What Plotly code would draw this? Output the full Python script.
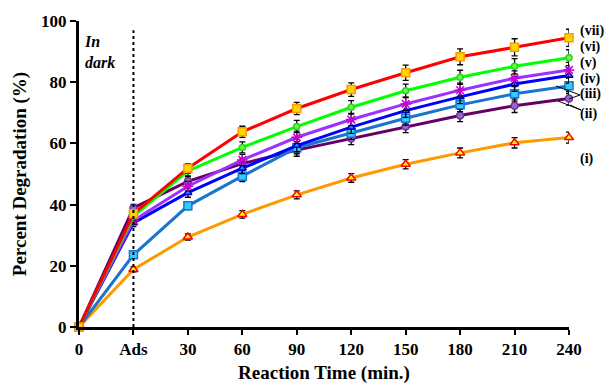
import plotly.graph_objects as go

# Sampling points (min.); "Ads" = end of the dark adsorption step
time_labels = ["0", "Ads", "30", "60", "90", "120", "150", "180", "210", "240"]

# Percent degradation for each photocatalyst
deg_i = [0, 18.8, 29.4, 36.8, 43.2, 48.7, 53.2, 56.9, 60.2, 61.9]
deg_ii = [0, 38.9, 47.6, 53.4, 57.8, 61.6, 65.5, 69.1, 72.3, 74.7]
deg_iii = [0, 23.6, 39.6, 49.3, 58.6, 63.3, 68.2, 72.6, 76.2, 78.8]
deg_iv = [0, 34.0, 43.9, 51.9, 59.3, 65.3, 70.7, 75.2, 79.4, 82.2]
deg_v = [0, 34.8, 46.0, 54.6, 62.0, 67.8, 72.9, 77.4, 81.3, 84.0]
deg_vi = [0, 36.2, 51.0, 58.7, 65.5, 71.8, 77.2, 81.6, 85.2, 88.0]
deg_vii = [0, 37.0, 51.9, 63.8, 71.4, 77.6, 83.1, 88.3, 91.4, 94.5]

# Standard deviations
err_i = [0, 0.8, 1.0, 1.2, 1.3, 1.4, 1.5, 1.6, 1.7, 1.8]
err_ii = [0, 1.2, 1.5, 1.8, 2.0, 2.0, 2.0, 2.0, 2.2, 2.2]
err_iii = [0, 1.0, 1.2, 1.8, 2.0, 2.0, 2.2, 2.2, 2.4, 2.5]
err_iv = [0, 1.2, 1.5, 1.8, 2.0, 2.0, 2.2, 2.2, 2.4, 2.5]
err_v = [0, 1.2, 1.6, 1.8, 2.0, 2.0, 2.2, 2.3, 2.4, 2.5]
err_vi = [0, 1.2, 1.6, 1.8, 2.0, 2.2, 2.2, 2.3, 2.5, 2.6]
err_vii = [0, 1.2, 1.5, 1.8, 2.0, 2.2, 2.5, 2.6, 2.8, 2.8]

series_labels = ["(i)", "(ii)", "(iii)", "(iv)", "(v)", "(vi)", "(vii)"]

FONT = "Liberation Serif"

styles = [
    dict(line="#FF9900", symbol="triangle-up", fill="#FFFF00", edge="#FF0000", size=8),
    dict(line="#660066", symbol="circle", fill="#9966CC", edge="#663399", size=7),
    dict(line="#1874CD", symbol="square", fill="#33CCFF", edge="#1874CD", size=8),
    dict(line="#0000FF", symbol="triangle-up", fill="#1E90FF", edge="#0000CC", size=7),
    dict(line="#9B30FF", symbol="asterisk-open", fill="#CC00CC", edge="#CC00CC", size=9),
    dict(line="#00FF00", symbol="circle", fill="#66FF33", edge="#33CC33", size=6),
    dict(line="#FF0000", symbol="square", fill="#FFD700", edge="#FF9900", size=8),
]

values = [deg_i, deg_ii, deg_iii, deg_iv, deg_v, deg_vi, deg_vii]
errors = [err_i, err_ii, err_iii, err_iv, err_v, err_vi, err_vii]

fig = go.Figure()

for name, ys, es, st in zip(series_labels, values, errors, styles):
    fig.add_trace(go.Scatter(
        x=time_labels, y=ys, name=name, mode="lines+markers",
        line=dict(color=st["line"], width=3),
        marker=dict(symbol=st["symbol"], size=st["size"], color=st["fill"],
                    line=dict(color=st["edge"], width=1.5)),
        error_y=dict(type="data", array=es, visible=True,
                     color="black", thickness=1.3, width=3),
        cliponaxis=False, showlegend=False,
    ))

# Dotted separator for the dark adsorption step
fig.add_shape(type="line", xref="x", yref="y", x0="Ads", x1="Ads", y0=0, y1=97,
              line=dict(color="black", width=2, dash="dot"))

fig.add_annotation(x=0.05, y=90, xref="x", yref="y", text="<b><i>In<br>dark</i></b>",
                   showarrow=False, xanchor="left", align="left",
                   font=dict(family=FONT, size=16, color="black"))

# Series labels at the right end of the curves
label_y = [55, 69.5, 76.0, 81.2, 86.4, 91.6, 96.8]
for lab, ly in zip(series_labels, label_y):
    fig.add_annotation(x=1.02, y=ly, xref="paper", yref="y", text="<b>%s</b>" % lab,
                       showarrow=False, xanchor="left", borderpad=0,
                       font=dict(family=FONT, size=14, color="black"))

def px_x(p):
    return (p - 79) / 490.0

def px_y(p):
    return (327 - p) / 3.06

pointer_lines = [
    ((556, 86), (580, 95)),
    ((569, 99), (580, 95)),
    ((558, 101), (581, 110)),
    ((570, 105), (581, 110)),
]
for (xa, ya), (xb, yb) in pointer_lines:
    fig.add_shape(type="line", xref="paper", yref="y",
                  x0=px_x(xa), y0=px_y(ya), x1=px_x(xb), y1=px_y(yb),
                  line=dict(color="black", width=1))

fig.update_layout(
    width=607, height=384,
    margin=dict(l=79, r=38, t=21, b=57),
    paper_bgcolor="white", plot_bgcolor="white",
    font=dict(family=FONT, color="black"),
    xaxis=dict(
        type="category", range=[0, 9], showgrid=False, zeroline=False,
        showline=True, linecolor="black", linewidth=3, automargin=False,
        ticks="outside", ticklen=5, tickwidth=2, tickcolor="black",
        tickfont=dict(family=FONT, size=17, color="black", weight="bold"),
        title=dict(text="<b>Reaction Time (min.)</b>", standoff=12,
                   font=dict(family=FONT, size=19, color="black")),
    ),
    yaxis=dict(
        range=[0, 100], dtick=20, showgrid=False, zeroline=False,
        showline=True, linecolor="black", linewidth=3, automargin=False,
        ticks="outside", ticklen=6, tickwidth=2, tickcolor="black",
        tickfont=dict(family=FONT, size=17, color="black", weight="bold"),
        title=dict(text="<b>Percent Degradation (%)</b>", standoff=10,
                   font=dict(family=FONT, size=19, color="black")),
    ),
)

fig.write_html("out.html")
